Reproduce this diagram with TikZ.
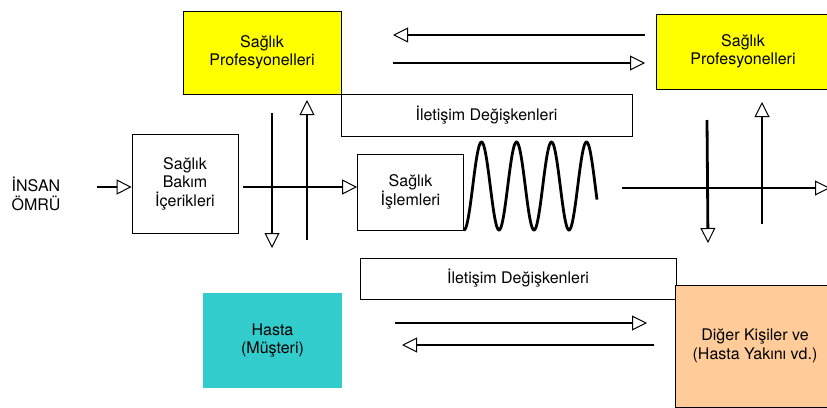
\documentclass[tikz,border=0pt]{standalone}
\usepackage{fontspec}
\setmainfont{TeX Gyre Heros}
\usetikzlibrary{arrows.meta}

\definecolor{sari}{RGB}{255,255,0}
\definecolor{turkuaz}{RGB}{51,204,204}
\definecolor{somon}{RGB}{255,204,153}

\tikzset{
  kutu/.style={draw, line width=0.8pt, align=center, inner sep=0pt},
  yazi/.style={font=\fontsize{16}{18.5}\selectfont},
  ok/.style={line width=2.8pt, -{Triangle[open, length=15pt, width=15pt, line width'=1pt]}}
}

\begin{document}
\begin{tikzpicture}[x=1pt, y=-1pt, yazi]
\clip (0,0) rectangle (827,407);

% Kutular
\node[kutu, fill=sari, minimum width=158pt, minimum height=83pt] (prof1) at (262,52.5) {Sağlık\\Profesyonelleri};
\node[kutu, fill=sari, minimum width=174pt, minimum height=75pt] (prof2) at (743,51.5) {Sağlık\\Profesyonelleri};
\node[kutu, minimum width=291pt, minimum height=42pt] (ilet1) at (486.5,115) {İletişim Değişkenleri};
\node[kutu, minimum width=106pt, minimum height=99pt] (bakim) at (185,183.5) {Sağlık\\Bakım\\İçerikleri};
\node[kutu, minimum width=106pt, minimum height=76pt] (islem) at (410.5,192) {Sağlık\\İşlemleri};
\node[kutu, minimum width=316pt, minimum height=41pt] (ilet2) at (518,278.5) {İletişim Değişkenleri};
\node[align=center, fill=turkuaz, minimum width=139pt, minimum height=95pt] (hasta) at (272.5,340.5) {Hasta\\(Müşteri)};
\node[kutu, fill=somon, minimum width=160pt, minimum height=122pt] (diger) at (755,346) {Diğer Kişiler ve\\(Hasta Yakını vd.)};
\node[align=left, inner sep=0pt] (insan) at (36,194) {İNSAN\\ÖMRÜ};

% Dalga
\draw[line width=2.8pt] plot[domain=0:133, samples=200, smooth]
  ({464+\x}, {186+44*cos(10.2857*\x)});

% Oklar
\coordinate (a1) at (97,187);
\coordinate (a2) at (243,187);
\draw[ok] (a1) -- (a1 -| bakim.west);
\draw[ok] (a2) -- (a2 -| islem.west);

\coordinate (d1) at (272,113);
\coordinate (d2) at (272,248);
\draw[ok] (d1) -- (d2);
\coordinate (u1) at (307,240);
\coordinate (u2) at (307,100);
\draw[ok] (u1) -- (u2);

\coordinate (b1) at (622,188);
\coordinate (b2) at (830,188);
\draw[ok] (b1) -- (b2);
\coordinate (d3) at (707,120);
\coordinate (d4) at (708,243);
\draw[ok] (d3) -- (d4);
\coordinate (u3) at (762,224);
\coordinate (u4) at (762,102);
\draw[ok] (u3) -- (u4);

\coordinate (t1) at (645,35);
\coordinate (t2) at (393,35);
\draw[ok] (t1) -- (t2);
\coordinate (t3) at (393,63);
\coordinate (t4) at (645,63);
\draw[ok] (t3) -- (t4);

\coordinate (k1) at (395,323);
\coordinate (k2) at (647,323);
\draw[ok] (k1) -- (k2);
\coordinate (k3) at (654,345);
\coordinate (k4) at (402,345);
\draw[ok] (k3) -- (k4);
\end{tikzpicture}
\end{document}
